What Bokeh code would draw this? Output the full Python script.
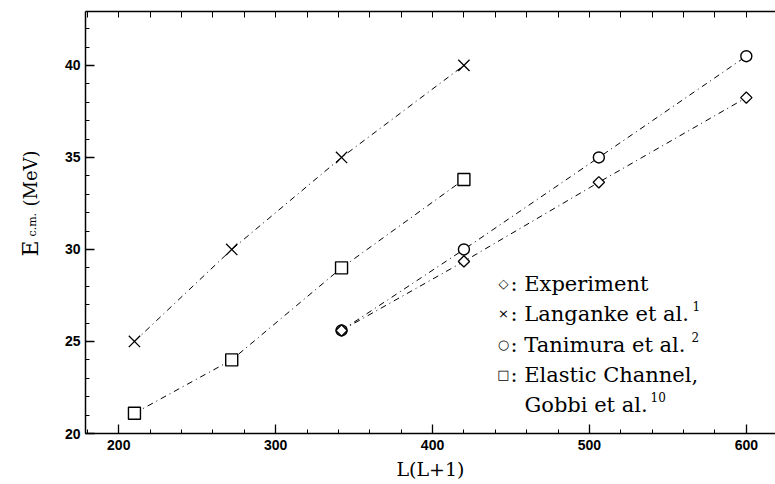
import numpy as np
from bokeh.plotting import figure
from bokeh.models import Range1d, LinearAxis, FixedTicker, Label
from bokeh.embed import file_html
from bokeh.resources import INLINE

# ---- data ----
langanke_x = [210, 272, 342, 420]
langanke_y = [25.0, 30.0, 35.0, 40.0]
gobbi_x = [210, 272, 342, 420]
gobbi_y = [21.1, 24.0, 29.0, 33.8]
tanimura_x = [342, 420, 506, 600]
tanimura_y = [25.6, 30.0, 35.0, 40.5]
exp_x = [342, 420, 506, 600]
exp_y = [25.6, 29.35, 33.65, 38.25]
x_ticks = [200, 300, 400, 500, 600]
y_ticks = [20, 25, 30, 35, 40]
x_minor = list(range(180, 620, 20))
y_minor = list(range(20, 43))

XMIN, XMAX = 178.8, 618.6
YMIN, YMAX = 20.0, 42.93

p = figure(width=775, height=484, x_range=Range1d(XMIN, XMAX), y_range=Range1d(YMIN, YMAX),
           output_backend="svg", toolbar_location=None,
           x_axis_location=None, y_axis_location=None,
           min_border_left=85, min_border_right=0, min_border_top=11, min_border_bottom=51)
p.grid.grid_line_color = None
p.outline_line_color = None
p.background_fill_color = "white"
p.border_fill_color = "white"

TICK_FONT = "Liberation Sans"
SERIF = "DejaVu Serif"

def style(ax):
    ax.axis_line_color = "black"
    ax.axis_line_width = 1.5
    ax.major_tick_line_color = "black"
    ax.minor_tick_line_color = "black"
    ax.major_tick_line_width = 1.3
    ax.minor_tick_line_width = 1.0
    ax.major_tick_in = 9
    ax.major_tick_out = 0
    ax.minor_tick_in = 4
    ax.minor_tick_out = 0
    ax.major_label_text_font = TICK_FONT
    ax.major_label_text_font_style = "bold"
    ax.major_label_text_font_size = "14px"
    ax.major_label_text_color = "black"

left = LinearAxis(ticker=FixedTicker(ticks=y_ticks, minor_ticks=y_minor))
style(left)
left.major_label_standoff = 5
p.add_layout(left, "left")

bottom = LinearAxis(ticker=FixedTicker(ticks=x_ticks, minor_ticks=x_minor), axis_label="L(L+1)")
style(bottom)
bottom.major_label_standoff = 6
bottom.axis_label_text_font = SERIF
bottom.axis_label_text_font_style = "normal"
bottom.axis_label_text_font_size = "19px"
bottom.axis_label_text_color = "black"
bottom.axis_label_standoff = 5
p.add_layout(bottom, "below")

# top frame edge: only tick marks, no labels
top = LinearAxis(ticker=FixedTicker(ticks=[], minor_ticks=x_minor))
style(top)
top.minor_tick_in = 6
p.add_layout(top, "above")

DASH = "6 4 1 4"
for xs, ys in [(langanke_x, langanke_y), (gobbi_x, gobbi_y), (tanimura_x, tanimura_y), (exp_x, exp_y)]:
    p.line(xs, ys, line_color="black", line_width=1, line_dash=DASH)

p.scatter(langanke_x, langanke_y, marker="x", size=16, line_color="black", line_width=1.3)
p.scatter(gobbi_x, gobbi_y, marker="square", size=12, line_color="black", fill_color="white", line_width=1.4)
p.scatter(tanimura_x, tanimura_y, marker="circle", size=11, line_color="black", fill_color="white", line_width=1.4)
p.scatter(exp_x, exp_y, marker="square", angle=np.pi / 4, size=8, line_color="black", fill_color="white", line_width=1.3)

# ---- annotation helpers (canvas pixel -> data) ----
SX = 690 / (XMAX - XMIN)
SY = 422 / (YMAX - YMIN)
def px2x(px):
    return XMIN + (px - 85) / SX
def py2y(py):
    return YMIN + (433 - py) / SY

def lab(px, py, text, size, align="left", baseline="middle", angle=0.0, font=SERIF, place=None):
    l = Label(x=px2x(px), y=py2y(py), text=text, text_font=font,
              text_font_size=f"{size}px", text_align=align, text_baseline=baseline,
              angle=angle, text_color="black")
    if place is None:
        p.add_layout(l)
    else:
        p.add_layout(l, place)

# legend
LEG = 21
rows = [283, 313, 344, 374, 404]
symbols = ["\u25c7", "\u00d7", "\u25cb", "\u25a1"]
texts = [": Experiment", ": Langanke et al.", ": Tanimura et al.", ": Elastic Channel,"]
for r, s, t in zip(rows, symbols, texts):
    lab(503, r, s, 13, align="center", font="DejaVu Sans")
    lab(510, r, t, LEG)
lab(524, rows[4], "Gobbi et al.", LEG)
lab(692, rows[1] - 8, "1", 12)
lab(691, rows[2] - 8, "2", 12)
lab(650, rows[4] - 8, "10", 12)

# y axis label (rotated), placed in the left side panel so it is not clipped
lab(30, 256, "E", 22, baseline="alphabetic", angle=np.pi / 2, place="left")
lab(32, 236, "c.m.", 11, baseline="alphabetic", angle=np.pi / 2, place="left")
lab(30, 206, "(MeV)", 18, baseline="alphabetic", angle=np.pi / 2, place="left")

open("out.html", "w").write(file_html(p, INLINE))
